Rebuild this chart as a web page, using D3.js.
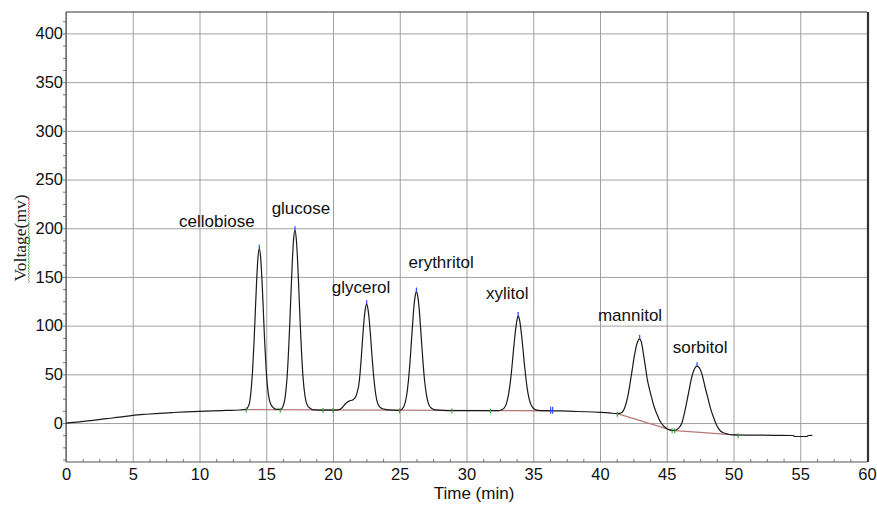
<!DOCTYPE html>
<html>
<head>
<meta charset="utf-8">
<script src="https://cdn.jsdelivr.net/npm/d3@7"></script>
<style>
  body { margin: 0; background: #fff; }
  svg { display: block; font-family: "Liberation Sans", Arial, sans-serif; }
  .grid line { stroke: #a0a0a0; stroke-width: 1; }
  .grid path { display: none; }
  .axis path { display: none; }
  .axis line { stroke: #777; }
  .axis text { font-size: 16.5px; fill: #111; }
  .peak-label { font-size: 17px; fill: #111; text-anchor: middle; }
</style>
</head>
<body>
<svg id="chart"></svg>
<script>
// tick labels
const xTicks = [0, 5, 10, 15, 20, 25, 30, 35, 40, 45, 50, 55, 60]
const yTicks = [0, 50, 100, 150, 200, 250, 300, 350, 400]

// peaks: name, retention time (min), apex voltage (mV)
const peakNames = ['cellobiose', 'glucose', 'glycerol', 'erythritol', 'xylitol', 'mannitol', 'sorbitol']
const peakTimes = [14.48, 17.15, 22.52, 26.25, 33.87, 42.97, 47.27]
const peakVolts = [179, 198, 122, 135, 110, 86.5, 58.4]
// where each name sits (centre time, baseline voltage)
const labelTimes = [11.3, 17.6, 22.1, 28.1, 33.05, 42.25, 47.5]
const labelVolts = [201, 215, 134, 159, 127, 105, 72]

// detector trace
const traceTime = [
  0, 1, 2, 3, 4, 5, 6, 7, 8, 9, 10, 11, 12, 13,
  13.5, 13.6, 13.75, 13.88, 13.98, 14.08, 14.18, 14.28, 14.38, 14.48, 14.58, 14.68, 14.78, 14.88, 14.98, 15.08, 15.2, 15.35, 15.55, 15.8,
  16.1, 16.25, 16.4, 16.55, 16.65, 16.75, 16.85, 16.95, 17.05, 17.15, 17.25, 17.35, 17.45, 17.55, 17.65, 17.75, 17.9, 18.05, 18.3,
  18.6, 19.25, 20.0,
  20.4, 20.7, 20.95, 21.2, 21.5, 21.7, 21.82, 21.92, 22.02, 22.12, 22.22, 22.32, 22.42, 22.52, 22.62, 22.72, 22.82, 22.92, 23.02, 23.12, 23.27, 23.42, 23.65, 24.0, 24.5,
  25.0, 25.15, 25.35, 25.5, 25.65, 25.75, 25.85, 25.95, 26.05, 26.15, 26.25, 26.35, 26.45, 26.55, 26.65, 26.75, 26.85, 27.0, 27.15, 27.35, 27.7, 28.2,
  28.9, 31.8, 32.4, 32.6, 32.8, 33.0, 33.15, 33.3, 33.4, 33.5, 33.6, 33.7, 33.8, 33.87, 33.95, 34.05, 34.15, 34.25, 34.35, 34.45, 34.6, 34.75, 34.95, 35.2, 35.6,
  36.3, 37, 38, 39, 40, 40.7,
  41.3, 41.6, 41.87, 42.12, 42.37, 42.6, 42.8, 42.97, 43.1, 43.24, 43.4, 43.54, 43.7, 43.87, 44.05, 44.24, 44.42, 44.62, 44.8, 45.0, 45.2, 45.4,
  45.65, 45.87, 46.12, 46.37, 46.62, 46.87, 47.07, 47.27, 47.45, 47.62, 47.87, 48.12, 48.3, 48.49, 48.68, 48.87, 49.05, 49.24, 49.6,
  50.0, 51.5, 53, 54.5, 54.55, 55.5, 55.6, 55.9
]
const traceVolt = [
  0, 1.2, 2.8, 4.5, 6, 7.8, 9, 10, 10.8, 11.5, 12, 12.4, 12.9, 13.4,
  14, 15.8, 21, 36, 55, 82, 114, 146, 170, 179, 170, 147, 116, 84, 58, 39, 26, 19, 15.5, 14,
  14, 17, 25, 45, 68, 98, 132, 165, 189, 198, 189, 166, 134, 100, 71, 48, 28, 19, 15,
  13.5, 13.3, 13.3,
  13.5, 16, 20, 22.5, 24, 27, 32, 38, 50, 67.5, 87, 104.7, 117, 122, 117, 105, 88, 69, 52, 38, 24, 18, 15, 13.8, 13.2,
  13, 14, 18.4, 27, 43.5, 59.5, 79, 99, 117.6, 130, 135, 130, 118, 100, 80, 61, 45, 29, 20, 15.5, 13.5, 13,
  12.8, 12.8, 12.8, 13.4, 15, 20.5, 29.5, 44, 57, 72, 86, 98.5, 107, 110, 107.5, 99, 87, 73, 58.5, 46, 31, 22, 16, 13.5, 12.8,
  12.6, 12.4, 12, 11.6, 11, 10.4,
  9.6, 10.5, 16.5, 30, 51, 71, 83, 86.5, 83, 72, 58, 45, 35, 26, 17, 10, 4, -0.5, -3.5, -5.5, -7, -7.5,
  -7.5, -5.5, -0.5, 13, 30, 47, 55.5, 58.4, 56.5, 51, 37, 23.5, 14, 6.5, -0.5, -5.5, -8.5, -10, -11.5,
  -12.2, -12.4, -12.6, -12.8, -13.8, -13.8, -12.8, -12.6
]

// integration baseline drawn by the software
const baseTime = [[13.5, 36.4], [41.3, 45.4, 50.35]]
const baseVolt = [[13.8, 12.6], [9.6, -7.5, -12.5]]

// peak start / end marks
const markTimes = [13.5, 16.05, 19.25, 20.0, 24.98, 28.9, 31.8, 41.3, 45.4, 45.6, 50.35]
const markVolts = [13.8, 13.6, 13.3, 13.3, 13, 12.8, 12.8, 9.6, -7.5, -7.5, -12.5]

const W = 877, H = 505
const margin = {top: 12, right: 10, bottom: 43, left: 66}
const width = 801
const height = H - margin.top - margin.bottom

const svg = d3.select('#chart')
  .attr('width', W)
  .attr('height', H)

const g = svg.append('g')
  .attr('transform', `translate(${margin.left},${margin.top})`)

const x = d3.scaleLinear().domain([0, 60]).range([0, width])
const y = d3.scaleLinear().domain([-40, 422]).range([height, 0])

// grid
g.append('g')
  .attr('class', 'grid')
  .call(d3.axisLeft(y).tickValues(yTicks).tickSize(-width).tickFormat(''))
g.append('g')
  .attr('class', 'grid')
  .attr('transform', `translate(0,${height})`)
  .call(d3.axisBottom(x).tickValues(xTicks).tickSize(-height).tickFormat(''))

// minor ticks, four steps per major
const yMinor = d3.range(-37.5, 422, 12.5).filter(v => v % 50 !== 0)
const xMinor = d3.range(1.25, 60, 1.25).filter(v => v % 5 !== 0)
g.append('g')
  .attr('class', 'axis')
  .call(d3.axisLeft(y).tickValues(yMinor).tickSize(3).tickFormat(''))
g.append('g')
  .attr('class', 'axis')
  .attr('transform', `translate(0,${height})`)
  .call(d3.axisBottom(x).tickValues(xMinor).tickSize(-3).tickFormat(''))

// labelled ticks
g.append('g')
  .attr('class', 'axis')
  .call(d3.axisLeft(y).tickValues(yTicks).tickSize(3).tickPadding(0))
g.append('g')
  .attr('class', 'axis')
  .attr('transform', `translate(0,${height})`)
  .call(d3.axisBottom(x).tickValues(xTicks).tickSize(0).tickPadding(6))

// frame
g.append('line').attr('x1', 0).attr('x2', 0).attr('y1', 0).attr('y2', height)
  .attr('stroke', '#555').attr('stroke-width', 1.2)
g.append('line').attr('x1', 0).attr('x2', width).attr('y1', height).attr('y2', height)
  .attr('stroke', '#555').attr('stroke-width', 1.2)
g.append('line').attr('x1', 0).attr('x2', width).attr('y1', 0).attr('y2', 0)
  .attr('stroke', '#333').attr('stroke-width', 1.2)
g.append('line').attr('x1', width + 1).attr('x2', width + 1).attr('y1', 0).attr('y2', height)
  .attr('stroke', '#333').attr('stroke-width', 2.2)

// baseline
const baseLine = d3.line().x(d => x(d[0])).y(d => y(d[1]))
baseTime.forEach((ts, i) => {
  g.append('path')
    .attr('d', baseLine(ts.map((t, j) => [t, baseVolt[i][j]])))
    .attr('fill', 'none')
    .attr('stroke', '#b47a7a')
    .attr('stroke-width', 1.3)
})

// trace
const trace = traceTime.map((t, i) => [t, traceVolt[i]])
g.append('path')
  .attr('d', d3.line().x(d => x(d[0])).y(d => y(d[1])).curve(d3.curveMonotoneX)(trace))
  .attr('fill', 'none')
  .attr('stroke', '#1a1a1a')
  .attr('stroke-width', 1.2)

// start / end marks
g.selectAll('.mark')
  .data(markTimes)
  .join('line')
    .attr('class', 'mark')
    .attr('x1', d => x(d)).attr('x2', d => x(d))
    .attr('y1', (d, i) => y(markVolts[i]) - 2)
    .attr('y2', (d, i) => y(markVolts[i]) + 3)
    .attr('stroke', '#3fa03f')
    .attr('stroke-width', 1.2)

// blue marks: apex and the end of the run
g.selectAll('.apex')
  .data(peakTimes)
  .join('line')
    .attr('class', 'apex')
    .attr('x1', d => x(d)).attr('x2', d => x(d))
    .attr('y1', (d, i) => y(peakVolts[i]))
    .attr('y2', (d, i) => y(peakVolts[i]) - 4)
    .attr('stroke', '#3050ff')
    .attr('stroke-width', 1.3)
;[36.3, 36.45].forEach(t => {
  g.append('line')
    .attr('x1', x(t)).attr('x2', x(t))
    .attr('y1', y(12.6) - 4).attr('y2', y(12.6) + 3)
    .attr('stroke', '#3050ff')
    .attr('stroke-width', 1.2)
})

// peak names
g.selectAll('.peak-label')
  .data(peakNames)
  .join('text')
    .attr('class', 'peak-label')
    .attr('x', (d, i) => x(labelTimes[i]))
    .attr('y', (d, i) => y(labelVolts[i]))
    .text(d => d)

// axis titles
svg.append('text')
  .attr('x', 474)
  .attr('y', 498.5)
  .attr('text-anchor', 'middle')
  .style('font-size', '17px')
  .attr('fill', '#111')
  .text('Time (min)')

svg.append('text')
  .attr('transform', 'translate(26,238) rotate(-90)')
  .attr('text-anchor', 'middle')
  .style('font-family', '"Liberation Serif", "Times New Roman", serif')
  .style('font-size', '17.5px')
  .attr('fill', '#222')
  .text('Voltage(mv)')

// spell-check squiggles under the rotated title
function squiggle(y0, y1) {
  const pts = []
  for (let yy = y0, k = 0; yy <= y1; yy += 1.5, k++) pts.push([k % 2 ? 29.5 : 28, yy])
  return d3.line()(pts)
}
svg.append('path').attr('d', squiggle(197, 220))
  .attr('fill', 'none').attr('stroke', '#e04040').attr('stroke-width', 0.8)
svg.append('path').attr('d', squiggle(220, 283))
  .attr('fill', 'none').attr('stroke', '#40a040').attr('stroke-width', 0.8)
</script>
</body>
</html>
